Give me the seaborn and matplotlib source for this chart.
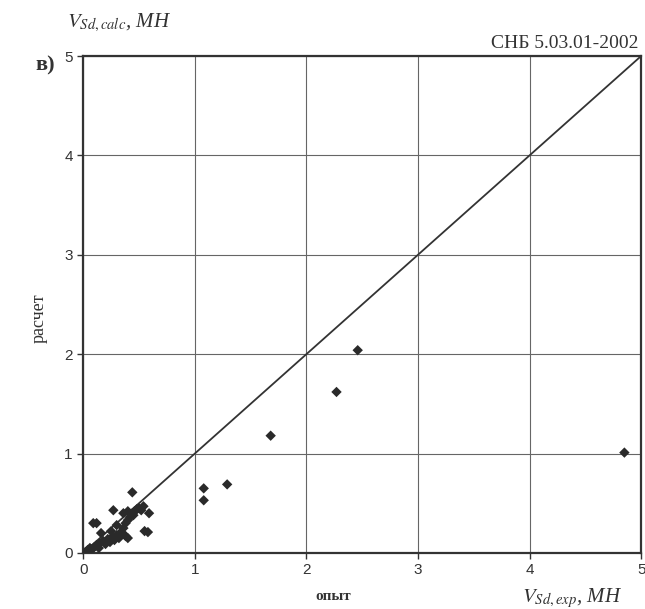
import numpy as np
import pandas as pd
import matplotlib
matplotlib.use('Agg')
import matplotlib.pyplot as plt
import seaborn as sns

# Данные: опыт (x) и расчет (y), МН
opyt = [0.02, 0.04, 0.05, 0.06, 0.08, 0.10, 0.12, 0.14, 0.15, 0.18,
        0.20, 0.22, 0.24, 0.26, 0.28, 0.30, 0.32, 0.35, 0.38, 0.40,
        0.33, 0.36, 0.38, 0.40, 0.42, 0.44, 0.46, 0.48, 0.50, 0.52,
        0.54, 0.36, 0.40, 0.45, 0.59, 0.58, 0.55, 0.44, 0.27, 0.09,
        0.12, 0.16, 0.25, 0.30, 1.08, 1.08, 1.29, 1.68, 2.27, 2.46, 4.85]
raschet = [0.01, 0.03, 0.02, 0.05, 0.04, 0.06, 0.08, 0.05, 0.10, 0.12,
           0.09, 0.14, 0.11, 0.16, 0.13, 0.18, 0.15, 0.20, 0.17, 0.15,
           0.20, 0.25, 0.30, 0.33, 0.36, 0.40, 0.42, 0.44, 0.45, 0.43,
           0.47, 0.40, 0.42, 0.38, 0.40, 0.21, 0.22, 0.61, 0.43, 0.30,
           0.30, 0.20, 0.22, 0.28, 0.65, 0.53, 0.69, 1.18, 1.62, 2.04, 1.01]
diag = [0, 5]
ticks = [0, 1, 2, 3, 4, 5]

df = pd.DataFrame({'opyt': opyt, 'raschet': raschet})

sns.set_style('ticks')
plt.rcParams['mathtext.fontset'] = 'stix'

fig = plt.figure(figsize=(6.45, 6.09), dpi=100)
ax = fig.add_axes([0.129, 0.092, 0.865, 0.816])

ax.grid(True, color='#666666', linewidth=0.8)
sns.lineplot(x=diag, y=diag, color='#333333', linewidth=1.3, ax=ax)
sns.scatterplot(data=df, x='opyt', y='raschet', marker='D', s=28,
                color='#2a2a2a', edgecolor='none', ax=ax, zorder=3)

ax.set_xlim(0, 5)
ax.set_ylim(0, 5)
ax.set_xticks(ticks)
ax.set_yticks(ticks)
ax.tick_params(labelsize=11, colors='#333333', length=4, width=1)
for lbl in ax.get_xticklabels() + ax.get_yticklabels():
    lbl.set_family('Liberation Sans')
for s in ax.spines.values():
    s.set_linewidth(1.6)
    s.set_color('#333333')

ax.set_xlabel('опыт', family='Liberation Serif', fontsize=11, color='#333333',
              fontweight='bold')
ax.xaxis.set_label_coords(0.448, -0.075)
ax.set_ylabel('расчет', family='Liberation Serif', fontsize=13, color='#333333')
ax.yaxis.set_label_coords(-0.063, 0.473)

fig.text(0.104, 0.962, '$V_{Sd,calc}$, МН', family='Liberation Serif',
         style='italic', fontsize=15, color='#333333', va='center')
fig.text(0.81, 0.018, '$V_{Sd,exp}$, МН', family='Liberation Serif',
         style='italic', fontsize=15, color='#333333', va='center')
fig.text(0.99, 0.928, 'СНБ 5.03.01-2002', family='Liberation Serif',
         fontsize=14, color='#333333', ha='right', va='center')
fig.text(0.055, 0.893, 'в)', family='Liberation Serif', fontsize=16,
         fontweight='bold', color='#333333', va='center')

fig.savefig('out.png', dpi=100)
